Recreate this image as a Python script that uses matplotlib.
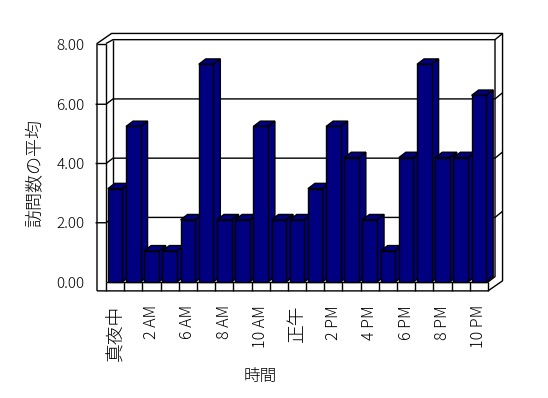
import matplotlib
matplotlib.use("Agg")
import matplotlib.pyplot as plt
from matplotlib.patches import Polygon, Rectangle

plt.rcParams["font.family"] = ["Noto Sans CJK JP", "DejaVu Sans"]
plt.rcParams["font.weight"] = "light"

# hourly averages
hours = ["真夜中", "1 AM", "2 AM", "5 AM", "6 AM", "7 AM", "8 AM", "9 AM",
         "10 AM", "11 AM", "正午", "1 PM", "2 PM", "3 PM", "4 PM", "5 PM",
         "6 PM", "7 PM", "8 PM", "9 PM", "10 PM"]
visits = [3.15, 5.25, 1.05, 1.05, 2.10, 7.35, 2.10, 2.10, 5.25, 2.10, 2.10,
          3.15, 5.25, 4.20, 2.10, 1.05, 4.20, 7.35, 4.20, 4.20, 6.30]
yticks = [0, 2, 4, 6, 8]

bar_color = "#000080"
lw = 1.0

W, H = 548, 398
fig = plt.figure(figsize=(W / 100, H / 100), dpi=100)
# front plane of the 3d box
ax = fig.add_axes([106 / W, (H - 282) / H, 382 / W, 237 / H])
n = len(visits)
ax.set_xlim(-0.5, n - 0.5)
ax.set_ylim(0, 8)
for s in ax.spines.values():
    s.set_visible(False)

# depth offsets (data units)
dx, dy = 0.385, 0.18       # bar depth / back wall
ox, oy = 0.80, 0.34        # outer box depth
wall_l = -0.995            # left wall outer edge
floor_b = -0.30            # floor slab bottom
right = n - 0.5
top = 8.0


def line(xs, ys, z=3):
    ax.plot(xs, ys, color="black", lw=lw, clip_on=False, zorder=z,
            solid_capstyle="butt")


# outer silhouette
line([wall_l, wall_l, wall_l + ox, right + ox, right + ox, right, wall_l],
     [floor_b, top + 0.05, top + 0.05 + oy, top + 0.05 + oy, floor_b + oy,
      floor_b, floor_b], z=1)
# left wall inner front edge and top
line([-0.5, -0.5], [0, top + 0.05], z=1)
line([wall_l, -0.5], [top + 0.05, top + 0.05], z=1)
# back wall
line([-0.5, -0.5 + dx, right + dx, right + dx, right],
     [top + 0.05, top + dy, top + dy, dy, 0], z=1)
line([-0.5 + dx, -0.5 + dx], [top + dy, dy], z=1)
line([right + dx, right + dx + 0.4], [top + dy, top + dy + 0.2], z=1)

# gridlines on left wall + back wall
for v in yticks[1:-1]:
    line([wall_l - 0.08, -0.5, -0.5 + dx, right + dx, right + dx + 0.4],
         [v, v, v + dy, v + dy, v + dy + 0.2], z=1)

# floor front face with category dividers
line([-0.5, right], [0, 0], z=1)
for k in range(n + 1):
    line([k - 0.5, k - 0.5], [floor_b, 0], z=1)

# bars, left to right so each front hides the previous side
for i, v in enumerate(visits):
    x0, x1 = i - 0.4, i + 0.4
    side = Polygon([(x1, 0), (x1 + dx, dy), (x1 + dx, v + dy), (x1, v)],
                   closed=True, facecolor=bar_color, edgecolor="black",
                   lw=lw, clip_on=False, zorder=4 + i)
    cap = Polygon([(x0, v), (x1, v), (x1 + dx, v + dy), (x0 + dx, v + dy)],
                  closed=True, facecolor=bar_color, edgecolor="black",
                  lw=lw, clip_on=False, zorder=4 + i)
    front = Rectangle((x0, 0), x1 - x0, v, facecolor=bar_color,
                      edgecolor="black", lw=lw, clip_on=False, zorder=4 + i)
    ax.add_patch(side)
    ax.add_patch(cap)
    ax.add_patch(front)

ax.set_yticks(yticks)
ax.set_yticklabels(["%.2f" % t for t in yticks], fontsize=11)
ax.tick_params(axis="y", length=0, pad=15.5)
ax.set_xticks(range(0, n, 2))
ax.set_xticklabels(hours[::2], rotation=90, fontsize=11.5, ha="right",
                   va="center", rotation_mode="anchor")
ax.tick_params(axis="x", length=0, pad=16.5)
for lab in ax.get_xticklabels():
    if lab.get_text() in ("真夜中", "正午"):
        lab.set_fontsize(13.5)

fig.text(35 / W, 1 - 173 / H, "訪問数の平均", rotation=90, ha="center",
         va="center", fontsize=13)
fig.text(260 / W, 1 - 376 / H, "時間", ha="center", va="center", fontsize=12)

fig.savefig("out.png", dpi=100)
